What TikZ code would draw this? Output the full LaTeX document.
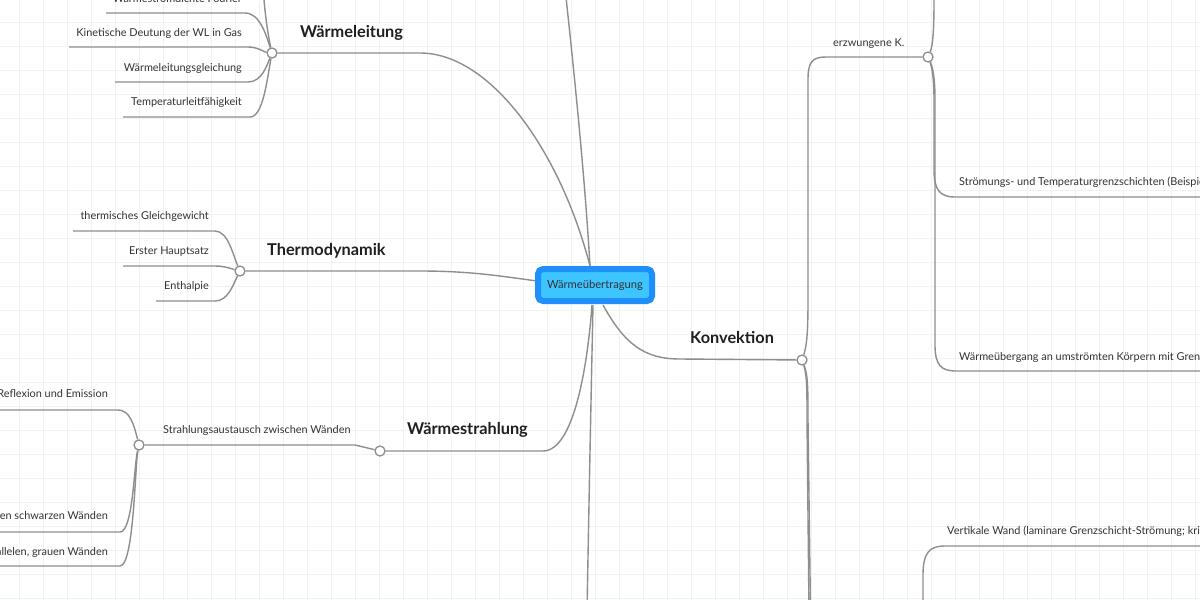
\documentclass[tikz,border=0pt]{standalone}
\usepackage{fontspec}
\setmainfont{Lato}
\definecolor{gridc}{HTML}{EFF5EA}
\definecolor{wire}{HTML}{8E8E8E}
\definecolor{hubedge}{HTML}{1E8FFB}
\definecolor{hubfill}{HTML}{3EC4FF}
\definecolor{ink}{HTML}{333333}

\begin{document}
\begin{tikzpicture}[
  x=1pt,y=-1pt,
  lnk/.style={draw=wire,line width=1.4pt},
  knot/.style={circle,draw=wire,fill=white,line width=1.3pt,inner sep=0pt,minimum size=10pt},
  leaf/.style={font=\fontsize{10.9}{12}\selectfont\color{ink},inner sep=0pt},
  topic/.style={font=\fontsize{16.3}{18}\selectfont\bfseries\color{black!88},inner sep=0pt},
  hub/.style={draw=hubedge,fill=hubfill,line width=6pt,rounded corners=5pt,
    minimum width=114pt,minimum height=32pt,inner sep=0pt,
    font=\fontsize{11.2}{12}\selectfont\color{black!80}},
]
\useasboundingbox (0,0) rectangle (1200,600);
\clip (0,0) rectangle (1200,600);
\fill[white] (0,0) rectangle (1200,600);
\foreach \gx in {19,43,...,1200} \draw[gridc,line width=1pt] (\gx,0) -- (\gx,600);
\foreach \gy in {22,46,...,600} \draw[gridc,line width=1pt] (0,\gy) -- (1200,\gy);

% junctions
\node[knot] (jleit) at (272,53) {};
\node[knot] (jtherm) at (240,271) {};
\node[knot] (jstrahl) at (380,451) {};
\node[knot] (jaus) at (139,445) {};
\node[knot] (jkonv) at (802,360) {};
\node[knot] (jerzw) at (928,57) {};

% free ends
\coordinate (offtop) at (565,-12);
\coordinate (offbot) at (587,612);
\coordinate (fourier) at (106,13);
\coordinate (kinet) at (69,47);
\coordinate (wlgl) at (115,82);
\coordinate (tlf) at (123,117);
\coordinate (leitup) at (263,-12);
\coordinate (gleich) at (73,231);
\coordinate (haupt) at (123,266);
\coordinate (enth) at (156,301);
\coordinate (refl) at (-5,410);
\coordinate (schwarz) at (-5,532);
\coordinate (grau) at (-5,566);
\coordinate (erzup) at (934,-12);
\coordinate (grenz) at (1210,197);
\coordinate (umstr) at (1210,371);
\coordinate (konvdown) at (809,612);
\coordinate (vwand) at (1210,546);
\coordinate (vwdown) at (923,612);

% main branches
\draw[lnk] (590,266) .. controls (585,180) and (575,80) .. (offtop);
\draw[lnk] (593,305) .. controls (591,400) and (589,500) .. (offbot);
\draw[lnk] (jleit) -- (420,53) .. controls (490,53) and (560,150) .. (590,266);
\draw[lnk] (jtherm) -- (420,271) .. controls (470,271) and (500,276) .. (537,281);
\draw[lnk] (jstrahl) -- (543,451) .. controls (575,451) and (588,360) .. (592,305);
\draw[lnk] (603,305) .. controls (625,345) and (645,359) .. (680,359) -- (jkonv);

% Wärmeleitung
\draw[lnk] (fourier) -- (245,13) .. controls (260,13) and (266,35) .. (jleit);
\draw[lnk] (kinet) -- (248,47) .. controls (258,47) and (264,52) .. (jleit);
\draw[lnk] (wlgl) -- (248,82) .. controls (262,82) and (267,65) .. (jleit);
\draw[lnk] (tlf) -- (250,117) .. controls (263,117) and (267,80) .. (jleit);
\draw[lnk] (leitup) .. controls (265,15) and (268,35) .. (jleit);

% Thermodynamik
\draw[lnk] (gleich) -- (215,231) .. controls (228,231) and (233,255) .. (jtherm);
\draw[lnk] (haupt) -- (215,266) .. controls (225,266) and (232,269) .. (jtherm);
\draw[lnk] (enth) -- (215,301) .. controls (228,301) and (233,285) .. (jtherm);

% Wärmestrahlung
\draw[lnk] (jaus) -- (355,445) -- (jstrahl);
\draw[lnk] (refl) -- (118,410) .. controls (130,410) and (134,425) .. (jaus);
\draw[lnk] (schwarz) -- (120,532) .. controls (133,532) and (134,465) .. (jaus);
\draw[lnk] (grau) -- (120,566) .. controls (134,566) and (135,465) .. (jaus);

% Konvektion
\draw[lnk] (jkonv) .. controls (807,345) and (808,330) .. (808,300) -- (808,80)
  .. controls (808,62) and (812,57) .. (826,57) -- (jerzw);
\draw[lnk] (jkonv) .. controls (807,375) and (807,390) .. (807,420) -- (konvdown);
\draw[lnk] (jkonv) .. controls (808,375) and (808,390) .. (808,420) -- ([xshift=1.5pt]konvdown);
\draw[lnk] (jerzw) .. controls (933,45) and (934,30) .. (934,0) -- (erzup);
\draw[lnk] (jerzw) .. controls (933,70) and (934,85) .. (934,100) -- (934,170)
  .. controls (934,190) and (940,197) .. (955,197) -- (grenz);
\draw[lnk] (jerzw) .. controls (934,70) and (935,85) .. (935,100) -- (935,345)
  .. controls (935,365) and (941,371) .. (956,371) -- (umstr);
\draw[lnk] (vwdown) -- (923,575) .. controls (923,552) and (930,546) .. (945,546) -- (vwand);

% centre
\node[hub] (waerme) at (595,285) {Wärmeübertragung};

% topics
\node[topic,anchor=base west] (tleit) at (300,37) {Wärmeleitung};
\node[topic,anchor=base west] (ttherm) at (267,255) {Thermodynamik};
\node[topic,anchor=base west] (tstrahl) at (407,434) {Wärmestrahlung};
\node[topic,anchor=base west] (tkonv) at (690,343) {Konvektion};

% leaves
\node[leaf,anchor=base east] (lfourier) at (242,2) {Wärmestromdichte Fourier};
\node[leaf,anchor=base east] (lkinet) at (242,36) {Kinetische Deutung der WL in Gas};
\node[leaf,anchor=base east] (lwlgl) at (242,71) {Wärmeleitungsgleichung};
\node[leaf,anchor=base east] (ltlf) at (242,105) {Temperaturleitfähigkeit};
\node[leaf,anchor=base east] (lgleich) at (209,219) {thermisches Gleichgewicht};
\node[leaf,anchor=base east] (lhaupt) at (209,254) {Erster Hauptsatz};
\node[leaf,anchor=base east] (lenth) at (209,289) {Enthalpie};
\node[leaf,anchor=base west] (laus) at (163,433) {Strahlungsaustausch zwischen Wänden};
\node[leaf,anchor=base east] (lrefl) at (108,397) {Absorption, Reflexion und Emission};
\node[leaf,anchor=base east] (lschwarz) at (108,519) {Strahlungsaustausch zwischen schwarzen Wänden};
\node[leaf,anchor=base east] (lgrau) at (108,555) {Strahlungsaustausch zwischen parallelen, grauen Wänden};
\node[leaf,anchor=base west] (lerzw) at (833,46) {erzwungene K.};
\node[leaf,anchor=base west] (lgrenz) at (959,185) {Strömungs- und Temperaturgrenzschichten (Beispiel)};
\node[leaf,anchor=base west] (lumstr) at (959,360) {Wärmeübergang an umströmten Körpern mit Grenzschicht};
\node[leaf,anchor=base west] (lvwand) at (947,534) {Vertikale Wand (laminare Grenzschicht-Strömung; kritische Rayleigh-Zahl)};
\end{tikzpicture}
\end{document}
